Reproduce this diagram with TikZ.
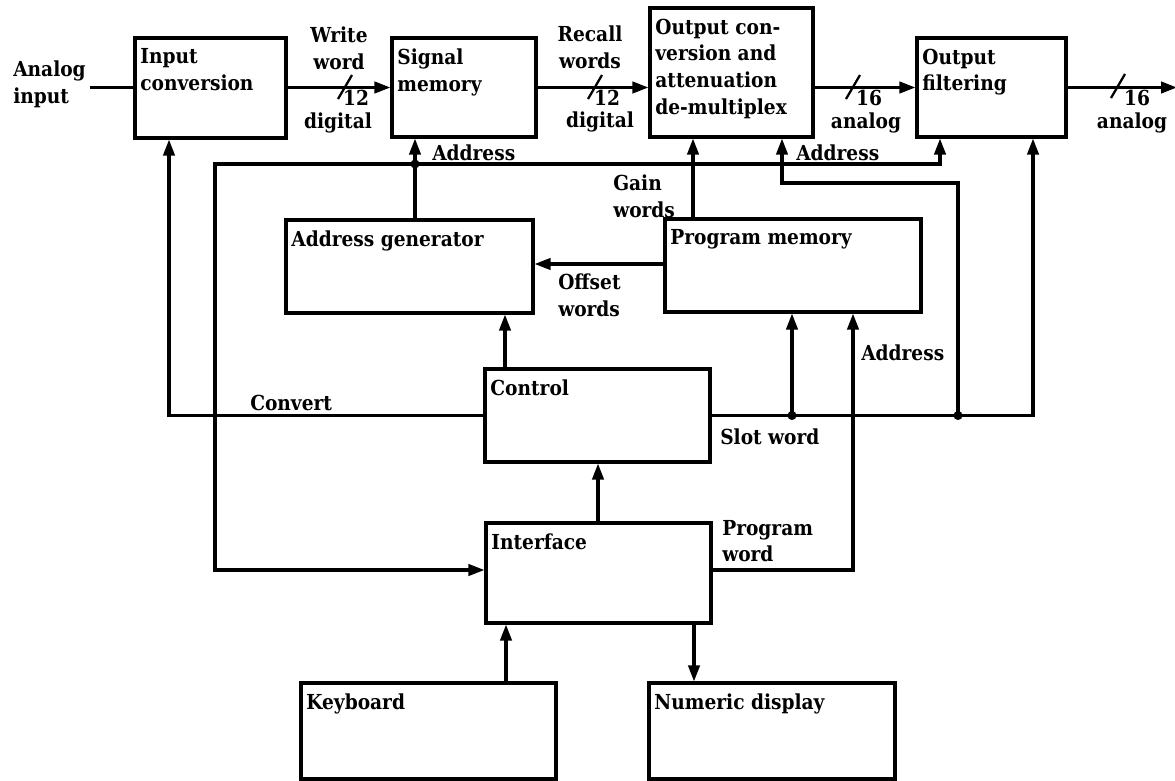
\documentclass[tikz,border=0pt]{standalone}
\usepackage{fontspec}
\setmainfont{DejaVu Serif Condensed}[BoldFont=* Bold]
\usetikzlibrary{arrows.meta,calc}
\newcommand\blk[6]{%
  \node[box, minimum width={(#4-#2)*0.75pt}, minimum height={(#5-#3)*0.75pt}] (#1) at ({(#2+#4)/2},{(#3+#5)/2}) {};
  \node[txt, anchor=north west] (#1-t) at ([xshift=5pt,yshift=-9pt]#1.north west) {#6};}
\begin{document}
\begin{tikzpicture}[x=0.75pt,y=-0.75pt,
  box/.style={draw, line width=2.3pt, inner sep=0pt},
  txt/.style={inner sep=0pt, align=left, font=\fontsize{15.5}{20}\selectfont\bfseries},
  lbl/.style={inner sep=0pt, align=left, font=\fontsize{15.5}{20}\selectfont\bfseries},
  wire/.style={line width=2.3pt},
  tip/.tip={Triangle[length=12pt,width=8.5pt]},
  arr/.style={wire, -tip},
  slashmark/.style={line width=1.7pt},
  dotr/.style={radius=3.4pt}]
\useasboundingbox (0,0) rectangle (1175,781);

\blk{inconv}{135}{38}{286}{138}{Input\\conversion}
\blk{sigmem}{392}{38}{536}{137}{Signal\\memory}
\blk{outconv}{650}{8}{813}{137}{Output con-\\version and\\attenuation\\de-multiplex}
\blk{outfilt}{917}{38}{1066}{137}{Output\\filtering}
\blk{addrgen}{286}{220}{533}{313}{Address generator}
\blk{progmem}{665}{219}{921}{312}{Program memory}
\blk{control}{485}{369}{710}{462}{Control}
\blk{iface}{486}{523}{711}{623}{Interface}
\blk{keyb}{301}{683}{556}{779}{Keyboard}
\blk{numdisp}{649}{683}{895}{779}{Numeric display}

\coordinate (ain) at (90,87.5);
\coordinate (aout) at (1177,87.5);
\coordinate (ab) at (415,164);
\coordinate (aL) at (215,164);
\coordinate (aR) at (940,164);
\coordinate (bl) at (215,570);
\coordinate (gx) at (693,0);
\coordinate (s1) at (792,415.5);
\coordinate (s2) at (958,415.5);
\coordinate (sR) at (1033,415.5);
\coordinate (oa1) at (958,183);
\coordinate (oa2) at (782,183);
\coordinate (cvL) at (169,415.5);
\coordinate (cx) at (505,0);
\coordinate (ix) at (598,0);
\coordinate (kx) at (506,0);
\coordinate (nx) at (694,0);
\coordinate (pw) at (853,570);
\coordinate (ow) at (0,264);

% main signal path
\draw[wire] (ain) -- (ain -| inconv.west);
\draw[arr] (inconv.east |- ain) -- (sigmem.west |- ain);
\draw[arr] (sigmem.east |- ain) -- (outconv.west |- ain);
\draw[arr] (outconv.east |- ain) -- (outfilt.west |- ain);
\draw[arr] (outfilt.east |- ain) -- (aout);

% bus slashes
\draw[slashmark] (345,87) ++(-7,12) -- ++(14,-24);
\draw[slashmark] (595,87) ++(-7,12) -- ++(14,-24);
\draw[slashmark] (853,87) ++(-7,12) -- ++(14,-24);
\draw[slashmark] (1118,86) ++(-7,12) -- ++(14,-24);

% address bus
\draw[wire] (addrgen.north -| ab) -- (ab);
\draw[arr] (ab) -- (ab |- sigmem.south);
\draw[wire, tip-tip] (aR |- outfilt.south) -- (aR) -- (aL) -- (bl) -- (bl -| iface.west);
\fill (ab) circle[dotr];

% gain and offset words
\draw[arr] (progmem.north -| gx) -- (outconv.south -| gx);
\draw[arr] (progmem.west |- ow) -- (addrgen.east |- ow);

% slot word
\draw[arr] (s2) -- (oa1) -- (oa2) -- (oa2 |- outconv.south);
\draw[arr] (control.east) -- (sR) -- (sR |- outfilt.south);
\draw[arr] (s1) -- (s1 |- progmem.south);
\fill (s1) circle[dotr];
\fill (s2) circle[dotr];

% convert
\draw[arr] (control.west) -- (cvL) -- (cvL |- inconv.south);

% control links
\draw[arr] (control.north -| cx) -- (addrgen.south -| cx);
\draw[arr] (iface.north -| ix) -- (control.south -| ix);
\draw[arr] (keyb.north -| kx) -- (iface.south -| kx);
\draw[arr] (iface.south -| nx) -- (numdisp.north -| nx);
\draw[arr] (iface.east |- pw) -- (pw) -- (pw |- progmem.south);

% labels
\node[lbl, anchor=west] (l-ain) at (13,84) {Analog\\input};
\node[lbl, align=center] (l-ww) at (339,48) {Write\\word};
\node[lbl] (l-12a) at (356,98) {12};
\node[lbl] (l-dga) at (338,123) {digital};
\node[lbl, align=center] (l-rw) at (590,47) {Recall\\words};
\node[lbl] (l-12b) at (607,98) {12};
\node[lbl] (l-dgb) at (600,122) {digital};
\node[lbl] (l-16a) at (869,98) {16};
\node[lbl] (l-ana) at (866,123) {analog};
\node[lbl] (l-16b) at (1137,98) {16};
\node[lbl] (l-anb) at (1132,123) {analog};
\node[lbl, anchor=west] (l-addr1) at (432,153) {Address};
\node[lbl, anchor=west] (l-addr2) at (796,153) {Address};
\node[lbl, anchor=west] (l-gain) at (613,196) {Gain\\words};
\node[lbl, anchor=west] (l-off) at (558,295) {Offset\\words};
\node[lbl, anchor=west] (l-conv) at (250,403) {Convert};
\node[lbl, anchor=west] (l-addr3) at (861,353) {Address};
\node[lbl, anchor=west] (l-slot) at (720,437) {Slot word};
\node[lbl, anchor=west] (l-pw) at (722,541) {Program\\word};
\end{tikzpicture}
\end{document}
